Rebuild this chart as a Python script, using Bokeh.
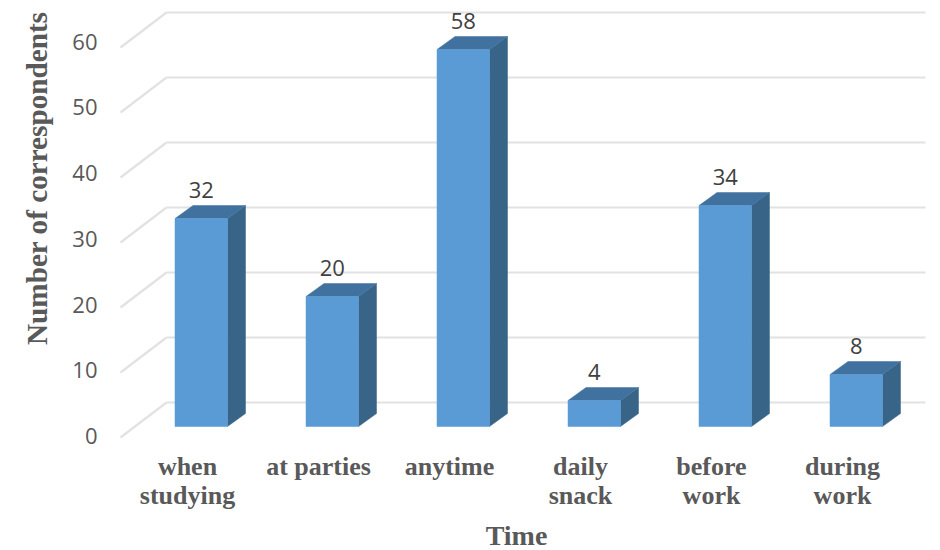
import numpy as np
from bokeh.plotting import figure
from bokeh.models import Range1d, LinearAxis, FixedTicker, Title
from bokeh.core.properties import value
from bokeh.embed import file_html
from bokeh.resources import INLINE

categories = ["when\nstudying", "at parties", "anytime", "daily\nsnack", "before\nwork", "during\nwork"]
counts = [32, 20, 58, 4, 34, 8]
y_ticks = [0, 10, 20, 30, 40, 50, 60]

SANS = "Open Sans"
SERIF = "Liberation Serif"

# page-pixel geometry of the plot frame
W, H = 940, 550
FL, FR, FT, FB = 100, 932, 8, 446
PX_Y = 6.5      # px per unit on the bar scale
PX_X = 131.0    # px per category
Y0 = 437.0      # page y of value 0 on the front edge of the floor
X0 = 200.75     # page x of the first bar's front-face centre

yr = Range1d((Y0 - FB) / PX_Y, (Y0 - FT) / PX_Y)
xr = Range1d((FL - X0) / PX_X, (FR - X0) / PX_X)

p = figure(width=W, height=H, frame_width=FR - FL, frame_height=FB - FT,
           x_range=xr, y_range=yr, x_axis_type=None, y_axis_type=None,
           output_backend="svg", toolbar_location=None,
           min_border_left=FL, min_border_right=W - FR, min_border_top=FT, min_border_bottom=H - FB,
           outline_line_color=None, background_fill_color="white", border_fill_color="white")

# axes with slightly different scale/shift, as in the reference's label placement
TY0, TPX = 435.5, 6.575
TX0, TPXX = 187.0, 131.0
p.extra_y_ranges["ticks"] = Range1d((TY0 - FB) / TPX, (TY0 - FT) / TPX)
p.extra_x_ranges["cats"] = Range1d((FL - TX0) / TPXX, (FR - TX0) / TPXX)

ya = LinearAxis(y_range_name="ticks", ticker=FixedTicker(ticks=y_ticks))
ya.axis_line_color = None
ya.major_tick_line_color = None
ya.minor_tick_line_color = None
ya.major_tick_out = 0
ya.major_tick_in = 0
ya.major_label_standoff = 3
ya.major_label_text_font = SANS
ya.major_label_text_font_size = "22px"
ya.major_label_text_color = "#595959"
p.add_layout(ya, "left")

# y-axis title: a side title can sit off-centre, unlike an axis label
p.add_layout(Title(text="Number of correspondents", align="right", offset=3, standoff=34,
                   text_font=SERIF, text_font_style="bold", text_font_size="29.2px",
                   text_color="#595959"), "left")

xa = LinearAxis(x_range_name="cats", ticker=FixedTicker(ticks=list(range(len(categories)))))
xa.major_label_overrides = {i: c for i, c in enumerate(categories)}
xa.axis_line_color = None
xa.major_tick_line_color = None
xa.minor_tick_line_color = None
xa.major_tick_out = 0
xa.major_tick_in = 0
xa.major_label_standoff = 5
xa.major_label_text_font = SERIF
xa.major_label_text_font_style = "bold"
xa.major_label_text_font_size = "26px"
xa.major_label_text_line_height = 1.02
xa.major_label_text_color = "#595959"
xa.axis_label = "Time"
xa.axis_label_text_font = SERIF
xa.axis_label_text_font_style = "bold"
xa.axis_label_text_font_size = "28px"
xa.axis_label_text_color = "#595959"
xa.axis_label_standoff = 7
p.add_layout(xa, "below")

# depth offsets
WALL_DX, WALL_DY = 46 / PX_X, 35 / PX_Y
RIGHT = (925 - X0) / PX_X
LEFT = (120 - X0) / PX_X
BAR_W = 52.5 / PX_X
BAR_DX, BAR_DY = 18 / PX_X, 13 / PX_Y
BAR_FLOOR = 11 / PX_Y

ticks = np.array(y_ticks, dtype=float)
GRID = dict(line_color="#E2E2E2", line_width=2.2)
p.segment(x0=[LEFT] * len(ticks), y0=ticks, x1=[LEFT + WALL_DX] * len(ticks), y1=ticks + WALL_DY, **GRID)
p.segment(x0=[LEFT + WALL_DX] * len(ticks), y0=ticks + WALL_DY, x1=[RIGHT] * len(ticks), y1=ticks + WALL_DY, **GRID)

xc = np.arange(len(counts), dtype=float)
vals = np.array(counts, dtype=float)
l, r = xc - BAR_W / 2, xc + BAR_W / 2
b, t = np.full_like(vals, BAR_FLOOR), vals + BAR_FLOOR

side_x = [[r[i], r[i] + BAR_DX, r[i] + BAR_DX, r[i]] for i in range(len(vals))]
side_y = [[b[i], b[i] + BAR_DY, t[i] + BAR_DY, t[i]] for i in range(len(vals))]
top_x = [[l[i], l[i] + BAR_DX, r[i] + BAR_DX, r[i]] for i in range(len(vals))]
top_y = [[t[i], t[i] + BAR_DY, t[i] + BAR_DY, t[i]] for i in range(len(vals))]

p.patches(side_x, side_y, fill_color="#386487", line_color="#386487", line_width=0.5)
p.patches(top_x, top_y, fill_color="#41729F", line_color="#41729F", line_width=0.5)
p.quad(left=l, right=r, bottom=b, top=t, fill_color="#5B9BD5", line_color="#5B9BD5", line_width=0.5)

p.text(x=xc, y=t, text=[str(c) for c in counts], y_offset=-29,
       text_align="center", text_baseline="middle",
       text_font=value(SANS), text_font_size="22px", text_color="#404040")

open("out.html", "w").write(file_html(p, INLINE))
